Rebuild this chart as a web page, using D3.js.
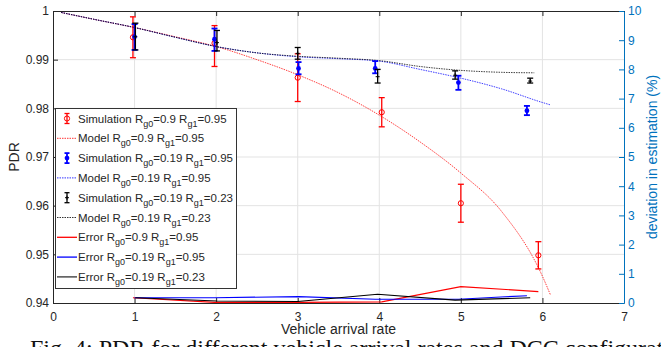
<!DOCTYPE html>
<html>
<head>
<meta charset="utf-8">
<script src="https://cdn.jsdelivr.net/npm/d3@7"></script>
<style>
  body { margin: 0; background: #fff; overflow: hidden; }
  svg { display: block; font-family: "Liberation Sans", Arial, sans-serif; }
</style>
</head>
<body>
<div id="chart"></div>
<script>
// simulation points (PDR), with error bar bounds
const redSimX = [0.98, 1.98, 3.0, 4.03, 5.0, 5.95]
const redSimY = [0.9946, 0.9934, 0.9863, 0.9792, 0.9605, 0.9498]
const redSimLo = [0.9904, 0.9886, 0.9814, 0.9762, 0.9566, 0.9470]
const redSimHi = [0.9988, 0.9970, 0.9912, 0.9822, 0.9644, 0.9526]

const blueSimX = [1.0, 1.98, 3.01, 3.95, 4.97, 5.81]
const blueSimY = [0.9947, 0.9942, 0.9882, 0.9882, 0.9853, 0.9795]
const blueSimLo = [0.9920, 0.9918, 0.9870, 0.9872, 0.9838, 0.9786]
const blueSimHi = [0.9973, 0.9964, 0.9895, 0.9897, 0.9867, 0.9805]

const blackSimX = [1.01, 2.01, 3.0, 3.98, 4.93, 5.85]
const blackSimY = [0.9947, 0.9935, 0.9913, 0.9865, 0.9868, 0.9856]
const blackSimLo = [0.9920, 0.9918, 0.9901, 0.9852, 0.9860, 0.9852]
const blackSimHi = [0.9975, 0.9960, 0.9925, 0.9880, 0.9877, 0.9862]

// model curves
const modelX = [0.1, 0.5, 1, 1.5, 2, 2.5, 3, 3.5, 4, 4.5, 5, 5.5, 6, 6.1]
const redModelY = [0.9997, 0.9983, 0.9966, 0.9947, 0.9927, 0.9900, 0.9869, 0.9832, 0.9786, 0.9731, 0.9667, 0.9588, 0.9455, 0.9416]
const blueModelY = [0.9997, 0.9983, 0.9966, 0.9946, 0.9927, 0.9914, 0.9906, 0.9902, 0.9897, 0.9880, 0.9862, 0.9840, 0.9812, 0.9807]
const blackModelX = [0.1, 0.5, 1, 1.5, 2, 2.5, 3, 3.5, 4, 4.5, 5, 5.5, 5.9]
const blackModelY = [0.9997, 0.9983, 0.9966, 0.9946, 0.9927, 0.9914, 0.9907, 0.9903, 0.9898, 0.9886, 0.9878, 0.9874, 0.9873]

// deviation in estimation (%), right axis
const redErr = [0.18, 0.02, 0.02, 0.04, 0.56, 0.39]
const blueErr = [0.18, 0.18, 0.22, 0.13, 0.13, 0.25]
const blackErr = [0.18, 0.07, 0.05, 0.30, 0.10, 0.18]

const xTicks = [0, 1, 2, 3, 4, 5, 6, 7]
const yTicks = [0.94, 0.95, 0.96, 0.97, 0.98, 0.99, 1]
const yRTicks = [0, 1, 2, 3, 4, 5, 6, 7, 8, 9, 10]

// legend: [kind, colour, prefix, g0 value, g1 value]
const legendItems = [
    ['sim', 'red', 'Simulation', '0.9', '0.95'],
    ['model', 'red', 'Model', '0.9', '0.95'],
    ['sim', 'blue', 'Simulation', '0.19', '0.95'],
    ['model', 'blue', 'Model', '0.19', '0.95'],
    ['sim', 'black', 'Simulation', '0.19', '0.23'],
    ['model', 'black', 'Model', '0.19', '0.23'],
    ['err', 'red', 'Error', '0.9', '0.95'],
    ['err', 'blue', 'Error', '0.19', '0.95'],
    ['err', '#333', 'Error', '0.19', '0.23']
]

const width = 661, height = 347
const pLeft = 53, pRight = 624, pTop = 11, pBottom = 303
const axisColor = '#262626'
const rightColor = '#0072BD'

const x = d3.scaleLinear().domain([0, 7]).range([pLeft, pRight])
const y = d3.scaleLinear().domain([0.94, 1]).range([pBottom, pTop])
const yR = d3.scaleLinear().domain([0, 10]).range([pBottom, pTop])

const svg = d3.select('#chart').append('svg')
    .attr('width', width).attr('height', height)

// grid
svg.append('g').selectAll('line').data(xTicks.slice(1, -1)).enter().append('line')
    .attr('x1', d => x(d)).attr('x2', d => x(d))
    .attr('y1', pTop).attr('y2', pBottom)
    .attr('stroke', '#e3e3e3').attr('stroke-width', 1)
svg.append('g').selectAll('line').data(yTicks.slice(1, -1)).enter().append('line')
    .attr('x1', pLeft).attr('x2', pRight)
    .attr('y1', d => y(d)).attr('y2', d => y(d))
    .attr('stroke', '#e3e3e3').attr('stroke-width', 1)

function styleAxis(g, color) {
    g.selectAll('path').attr('stroke', color)
    g.selectAll('line').attr('stroke', color)
    g.selectAll('text').attr('fill', color).attr('font-size', 12)
        .attr('font-family', '"Liberation Sans", Arial, sans-serif')
}

const xAxis = svg.append('g').attr('transform', `translate(0,${pBottom})`)
    .call(d3.axisBottom(x).tickValues(xTicks).tickFormat(d3.format('d'))
        .tickSizeInner(-5).tickSizeOuter(0).tickPadding(9))
styleAxis(xAxis, axisColor)

const xTop = svg.append('g').attr('transform', `translate(0,${pTop})`)
    .call(d3.axisTop(x).tickValues(xTicks).tickFormat('')
        .tickSizeInner(-5).tickSizeOuter(0))
styleAxis(xTop, axisColor)

const yAxis = svg.append('g').attr('transform', `translate(${pLeft},0)`)
    .call(d3.axisLeft(y).tickValues(yTicks).tickFormat(d => d === 1 ? '1' : d3.format('.2f')(d))
        .tickSizeInner(-5).tickSizeOuter(0).tickPadding(4))
styleAxis(yAxis, axisColor)

const yRAxis = svg.append('g').attr('transform', `translate(${pRight},0)`)
    .call(d3.axisRight(yR).tickValues(yRTicks).tickFormat(d3.format('d'))
        .tickSizeInner(-5).tickSizeOuter(0).tickPadding(4))
styleAxis(yRAxis, rightColor)

// axis titles
svg.append('text').attr('x', x(3.5)).attr('y', 334)
    .attr('text-anchor', 'middle').attr('font-size', 14).attr('fill', axisColor)
    .text('Vehicle arrival rate')
svg.append('text').attr('transform', `translate(19,${(pTop + pBottom) / 2}) rotate(-90)`)
    .attr('text-anchor', 'middle').attr('font-size', 14).attr('fill', axisColor)
    .text('PDR')
svg.append('text').attr('transform', `translate(657,${(pTop + pBottom) / 2}) rotate(-90)`)
    .attr('text-anchor', 'middle').attr('font-size', 14).attr('fill', rightColor)
    .text('deviation in estimation (%)')

// error lines on right axis
const errLine = d3.line().x(d => x(d[0])).y(d => yR(d[1]))
const errSeries = [
    [redSimX, redErr, 'red'],
    [blueSimX, blueErr, 'blue'],
    [blackSimX, blackErr, 'black']
]
errSeries.forEach(s => {
    svg.append('path').datum(d3.zip(s[0], s[1]))
        .attr('d', errLine).attr('fill', 'none')
        .attr('stroke', s[2]).attr('stroke-width', 1.1)
})

// model curves
const modelLine = d3.line().x(d => x(d[0])).y(d => y(d[1])).curve(d3.curveMonotoneX)
const models = [
    [modelX, redModelY, 'red'],
    [modelX, blueModelY, 'blue'],
    [blackModelX, blackModelY, 'black']
]
models.forEach(m => {
    svg.append('path').datum(d3.zip(m[0], m[1]))
        .attr('d', modelLine).attr('fill', 'none')
        .attr('stroke', m[2]).attr('stroke-width', 1)
        .attr('stroke-opacity', 0.75)
        .attr('stroke-dasharray', '1.5,1')
})

// simulation error bars
function drawSim(xs, ys, lo, hi, color, marker, sw) {
    const g = svg.append('g')
    const pts = xs.map((d, i) => ({ x: d, y: ys[i], lo: lo[i], hi: hi[i] }))
    const cap = 3
    const bars = g.selectAll('g').data(pts).enter().append('g')
        .attr('stroke', color).attr('stroke-width', sw)
    bars.append('line')
        .attr('x1', d => x(d.x)).attr('x2', d => x(d.x))
        .attr('y1', d => y(d.lo)).attr('y2', d => y(d.hi))
    bars.append('line')
        .attr('x1', d => x(d.x) - cap).attr('x2', d => x(d.x) + cap)
        .attr('y1', d => y(d.lo)).attr('y2', d => y(d.lo))
    bars.append('line')
        .attr('x1', d => x(d.x) - cap).attr('x2', d => x(d.x) + cap)
        .attr('y1', d => y(d.hi)).attr('y2', d => y(d.hi))
    bars.each(function (d) { marker(d3.select(this), x(d.x), y(d.y)) })
}

const openCircle = (g, cx, cy) => g.append('circle').attr('cx', cx).attr('cy', cy).attr('r', 2.6)
    .attr('fill', 'none').attr('stroke-width', 1)
const dot = (g, cx, cy) => g.append('circle').attr('cx', cx).attr('cy', cy).attr('r', 2.4)
    .attr('fill', 'blue').attr('stroke', 'none')
const plus = (g, cx, cy) => g.append('path')
    .attr('d', `M${cx - 2},${cy}H${cx + 2}M${cx},${cy - 2}V${cy + 2}`).attr('stroke-width', 1)

drawSim(redSimX, redSimY, redSimLo, redSimHi, 'red', openCircle, 1.3)
drawSim(blueSimX, blueSimY, blueSimLo, blueSimHi, 'blue', dot, 1.8)
drawSim(blackSimX, blackSimY, blackSimLo, blackSimHi, 'black', plus, 1.3)

// legend
const lg = svg.append('g')
lg.append('rect').attr('x', 55.5).attr('y', 108.5).attr('width', 181).attr('height', 180)
    .attr('fill', 'white').attr('stroke', '#333').attr('stroke-width', 1)
legendItems.forEach((it, i) => {
    const cy = 118.5 + i * 19.8
    const g = lg.append('g').attr('stroke', it[1])
    if (it[0] === 'sim') {
        g.attr('stroke-width', it[1] === 'blue' ? 1.8 : 1.3)
        g.append('line').attr('x1', 67).attr('x2', 67).attr('y1', cy - 5).attr('y2', cy + 5)
        g.append('line').attr('x1', 64.5).attr('x2', 69.5).attr('y1', cy - 5).attr('y2', cy - 5)
        g.append('line').attr('x1', 64.5).attr('x2', 69.5).attr('y1', cy + 5).attr('y2', cy + 5)
        if (it[1] === 'red') openCircle(g, 67, cy)
        else if (it[1] === 'blue') dot(g, 67, cy)
        else plus(g, 67, cy)
    } else {
        g.append('line').attr('x1', 57).attr('x2', 77).attr('y1', cy).attr('y2', cy)
            .attr('stroke-width', it[0] === 'err' ? 1.3 : 1)
            .attr('stroke-opacity', it[0] === 'model' ? 0.8 : 1)
            .attr('stroke-dasharray', it[0] === 'model' ? '1.5,1' : null)
    }
    const t = lg.append('text').attr('x', 78).attr('y', cy + 4)
        .attr('font-size', 11.5).attr('fill', axisColor)
    t.append('tspan').text(it[2] + ' R')
    t.append('tspan').attr('font-size', 9).attr('dy', 4).text('g0')
    t.append('tspan').attr('dy', -4).text('=' + it[3] + ' R')
    t.append('tspan').attr('font-size', 9).attr('dy', 4).text('g1')
    t.append('tspan').attr('dy', -4).text('=' + it[4])
})

// caption (cut off at the bottom of the picture)
svg.append('text').attr('x', 30).attr('y', 356)
    .attr('font-family', '"Liberation Serif", "Times New Roman", serif')
    .attr('font-size', 24).attr('fill', '#111')
    .text('Fig. 4: PDR for different vehicle arrival rates and DCC configurations')
</script>
</body>
</html>
